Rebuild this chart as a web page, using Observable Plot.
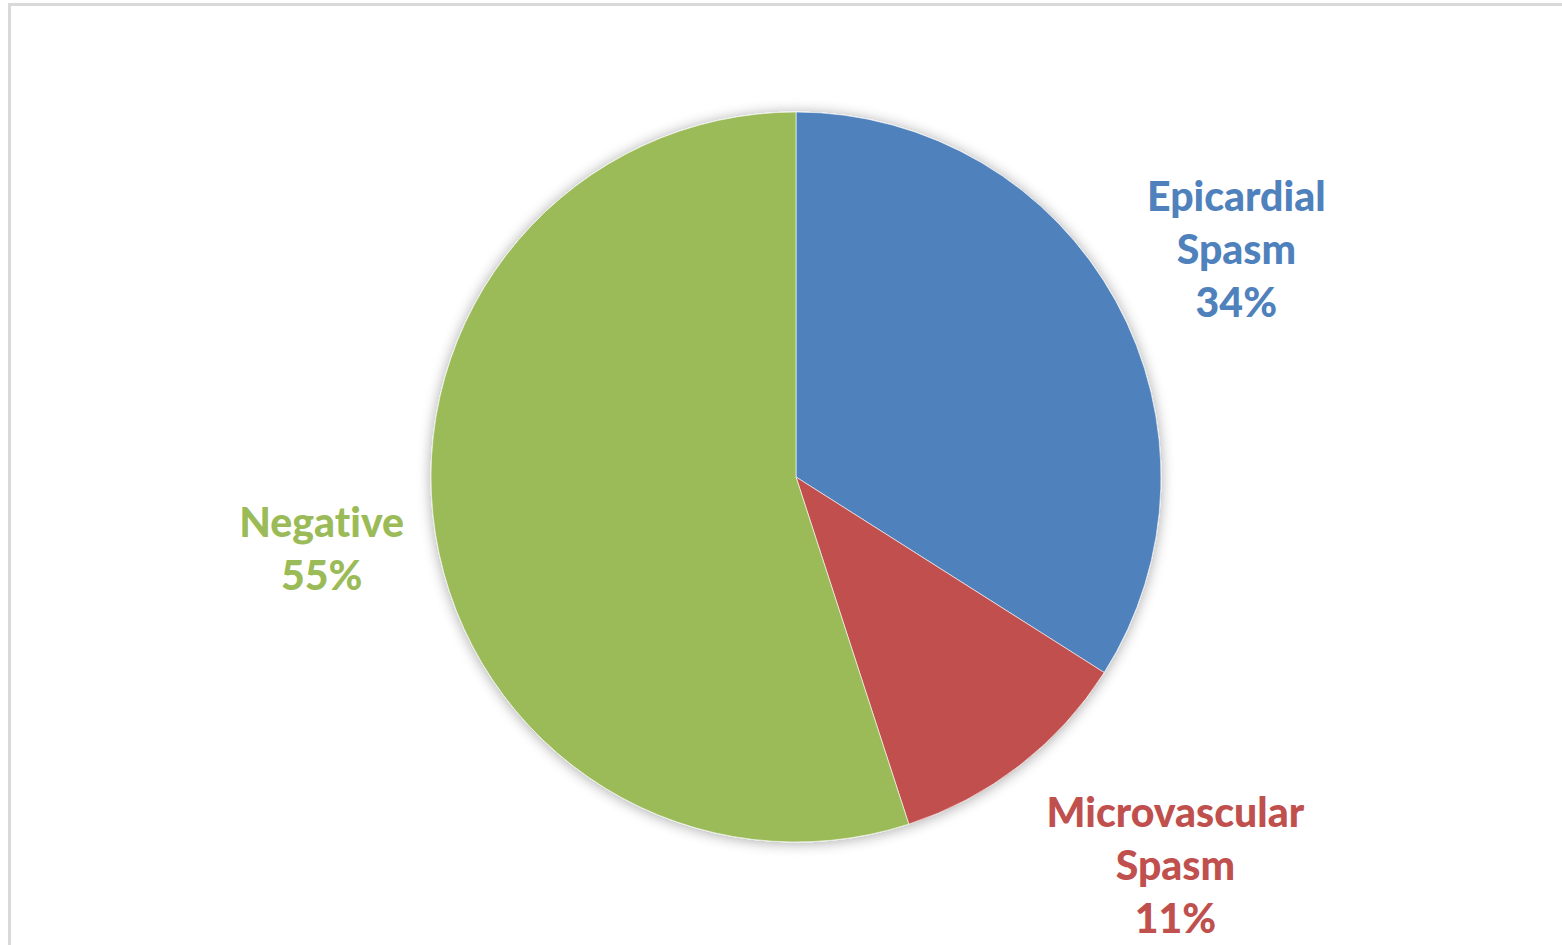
<!DOCTYPE html>
<html>
<head>
<meta charset="utf-8">
<script src="https://cdn.jsdelivr.net/npm/d3@7"></script>
<script src="https://cdn.jsdelivr.net/npm/@observablehq/plot@0.6"></script>
<style>
  html, body { margin: 0; padding: 0; background: #fff; }
  #wrap { position: relative; width: 1562px; height: 945px; overflow: hidden; }
  #frame { position: absolute; left: 8px; top: 3px; width: 1600px; height: 1000px;
           border-left: 3px solid #d9d9d9; border-top: 3px solid #d9d9d9; box-sizing: border-box; }
  #chart { position: absolute; left: 0; top: 0; }
  #chart text { font-variant-ligatures: none; font-feature-settings: "liga" 0, "clig" 0; }
</style>
</head>
<body>
<div id="wrap"><div id="frame"></div><div id="chart"></div></div>
<script>
const categories = ["Epicardial Spasm", "Microvascular Spasm", "Negative"];
const labelLines = [["Epicardial", "Spasm"], ["Microvascular", "Spasm"], ["Negative"]];
const values = [34, 11, 55];
const colors = ["#4F81BD", "#C0504D", "#9BBB59"];

// layout constants (label centre offsets from the pie centre, in radius units)
const W = 1562, H = 945;
const cx = 796, cy = 477, R = 365;
const labelOffset = [[1.205, -0.622], [1.038, 1.068], [-1.301, 0.2]];
const fontSize = 41, lineH = 53;

const data = categories.map((c, i) => ({category: c, value: values[i], color: colors[i], lines: labelLines[i]}));
const arcs = d3.pie().sort(null).value(d => d.value)(data);

const labelRows = [];
arcs.forEach((a, i) => {
  const x = cx + R * labelOffset[i][0];
  const y = cy + R * labelOffset[i][1];
  const lines = [...a.data.lines, Math.round(a.data.value) + "%"];
  const n = lines.length;
  lines.forEach((t, k) => {
    labelRows.push({x, y: y + (k - (n - 1) / 2) * lineH, text: t, color: a.data.color});
  });
});

function pieMark(index, scales, values_, dims, context) {
  const svg = d3.select(context.document.createElementNS("http://www.w3.org/2000/svg", "g"));
  const defs = svg.append("defs");
  const f = defs.append("filter").attr("id", "pieShadow").attr("x", "-20%").attr("y", "-20%").attr("width", "140%").attr("height", "140%");
  f.append("feGaussianBlur").attr("in", "SourceAlpha").attr("stdDeviation", 7).attr("result", "b");
  f.append("feOffset").attr("in", "b").attr("dx", 0).attr("dy", 1).attr("result", "o");
  f.append("feComponentTransfer").attr("in", "o").attr("result", "s")
    .append("feFuncA").attr("type", "linear").attr("slope", 0.35);
  const m = f.append("feMerge");
  m.append("feMergeNode").attr("in", "s");
  m.append("feMergeNode").attr("in", "SourceGraphic");
  const arc = d3.arc().innerRadius(0).outerRadius(R);
  const g = svg.append("g")
    .attr("transform", `translate(${scales.x(cx)},${scales.y(cy)})`)
    .attr("filter", "url(#pieShadow)");
  g.selectAll("path").data(arcs).join("path")
    .attr("d", arc)
    .attr("fill", d => d.data.color)
    .attr("stroke", "#ffffff")
    .attr("stroke-opacity", 0.6)
    .attr("stroke-width", 1);
  return svg.node();
}

const chart = Plot.plot({
  width: W,
  height: H,
  margin: 0,
  x: {type: "identity", axis: null},
  y: {type: "identity", axis: null},
  style: {background: "transparent", overflow: "visible"},
  marks: [
    pieMark,
    Plot.text(labelRows, {
      x: "x", y: "y", text: "text", fill: "color",
      fontSize, fontWeight: 900,
      fontFamily: "Lato, 'Open Sans', sans-serif",
      textAnchor: "middle", lineAnchor: "middle"
    })
  ]
});
document.getElementById("chart").appendChild(chart);
</script>
</body>
</html>
